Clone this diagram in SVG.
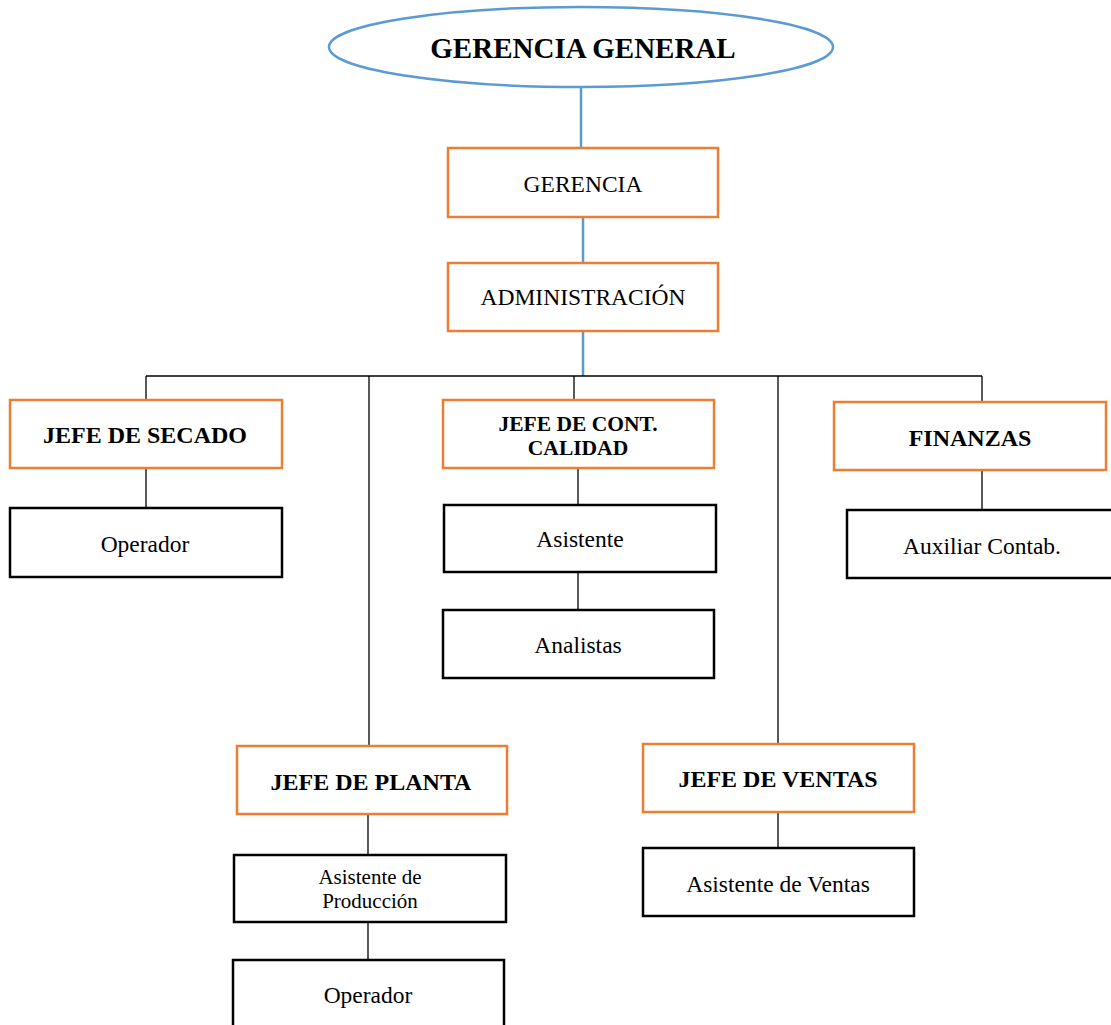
<svg xmlns="http://www.w3.org/2000/svg" width="1111" height="1025" viewBox="0 0 1111 1025">
<style>
.o{fill:#fff;stroke:#ED7D31;stroke-width:2.5}
.k{fill:#fff;stroke:#000;stroke-width:2.5}
.t{font-family:"Liberation Serif","Times New Roman",serif;font-size:23.5px;fill:#000;text-anchor:middle}
.b{font-weight:bold;font-size:24px}
.bl{stroke:#5B9BD5;stroke-width:2.5;fill:none}
.ln{stroke:#000;stroke-width:1.3;fill:none}
</style>
<rect width="1111" height="1025" fill="#fff"/>
<g id="connectors">
<line class="bl" x1="581" y1="87" x2="581" y2="148"/>
<line class="bl" x1="583" y1="217" x2="583" y2="263"/>
<line class="bl" x1="583" y1="331" x2="583" y2="376"/>
<line class="ln" x1="146" y1="376" x2="982" y2="376"/>
<line class="ln" x1="146" y1="376" x2="146" y2="400"/>
<line class="ln" x1="369" y1="376" x2="369" y2="746"/>
<line class="ln" x1="574" y1="376" x2="574" y2="400"/>
<line class="ln" x1="778" y1="376" x2="778" y2="744"/>
<line class="ln" x1="982" y1="376" x2="982" y2="402"/>
<line class="ln" x1="146" y1="468" x2="146" y2="508"/>
<line class="ln" x1="578" y1="468" x2="578" y2="505"/>
<line class="ln" x1="578" y1="572" x2="578" y2="610"/>
<line class="ln" x1="982" y1="470" x2="982" y2="510"/>
<line class="ln" x1="368" y1="814" x2="368" y2="855"/>
<line class="ln" x1="368" y1="922" x2="368" y2="960"/>
<line class="ln" x1="778" y1="812" x2="778" y2="848"/>
</g>
<g id="gerencia-general">
<ellipse cx="581" cy="47" rx="252" ry="40" fill="#fff" stroke="#5B9BD5" stroke-width="2.5"/>
<text class="t b" x="583" y="58" style="font-size:29px">GERENCIA GENERAL</text>
</g>
<g id="gerencia">
<rect class="o" x="448" y="148" width="270" height="69"/>
<text class="t" x="583" y="192">GERENCIA</text>
</g>
<g id="administracion">
<rect class="o" x="448" y="263" width="270" height="68"/>
<text class="t" x="583" y="305">ADMINISTRACIÓN</text>
</g>
<g id="jefe-secado">
<rect class="o" x="10" y="400" width="272" height="68"/>
<text class="t b" x="145" y="443">JEFE DE SECADO</text>
</g>
<g id="operador-secado">
<rect class="k" x="10" y="508" width="272" height="69"/>
<text class="t" x="145" y="552">Operador</text>
</g>
<g id="jefe-calidad">
<rect class="o" x="443" y="400" width="271" height="68"/>
<text class="t b" x="578" y="431" style="font-size:21.5px">JEFE DE CONT.</text>
<text class="t b" x="578" y="455" style="font-size:21.5px">CALIDAD</text>
</g>
<g id="asistente-calidad">
<rect class="k" x="444" y="505" width="272" height="67"/>
<text class="t" x="580" y="547">Asistente</text>
</g>
<g id="analistas">
<rect class="k" x="443" y="610" width="271" height="68"/>
<text class="t" x="578" y="653">Analistas</text>
</g>
<g id="finanzas">
<rect class="o" x="834" y="402" width="272" height="68"/>
<text class="t b" x="970" y="446">FINANZAS</text>
</g>
<g id="auxiliar-contab">
<rect class="k" x="847" y="510" width="272" height="68"/>
<text class="t" x="982" y="554">Auxiliar Contab.</text>
</g>
<g id="jefe-planta">
<rect class="o" x="237" y="746" width="270" height="68"/>
<text class="t b" x="371" y="790">JEFE DE PLANTA</text>
</g>
<g id="asistente-produccion">
<rect class="k" x="234" y="855" width="272" height="67"/>
<text class="t" x="370" y="884" style="font-size:21px">Asistente de</text>
<text class="t" x="370" y="908" style="font-size:21px">Producción</text>
</g>
<g id="operador-planta">
<rect class="k" x="233" y="960" width="271" height="80"/>
<text class="t" x="368" y="1003">Operador</text>
</g>
<g id="jefe-ventas">
<rect class="o" x="643" y="744" width="271" height="68"/>
<text class="t b" x="778" y="787">JEFE DE VENTAS</text>
</g>
<g id="asistente-ventas">
<rect class="k" x="643" y="848" width="271" height="68"/>
<text class="t" x="778" y="892">Asistente de Ventas</text>
</g>
</svg>
